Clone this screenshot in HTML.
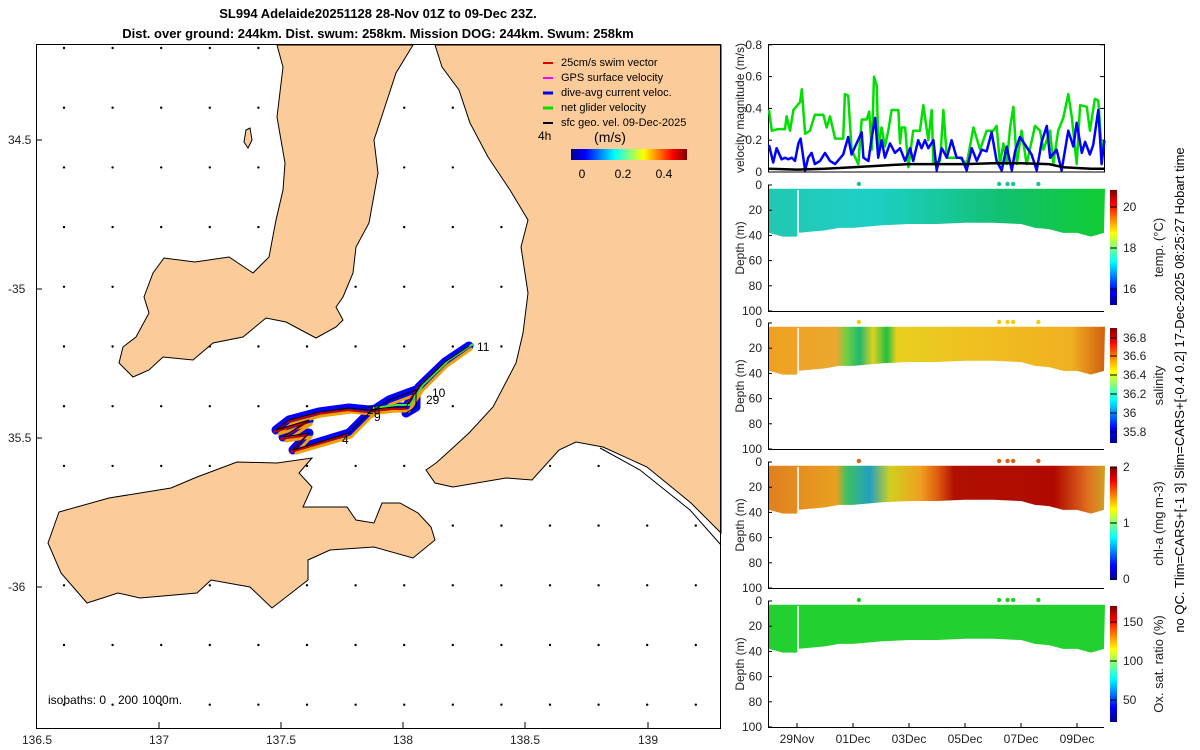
<!DOCTYPE html>
<html><head><meta charset="utf-8"><style>
body{margin:0;background:#fff;}
svg{display:block;font-family:"Liberation Sans",sans-serif;}
</style></head><body>
<svg id="root" width="1200" height="750" viewBox="0 0 1200 750" xmlns="http://www.w3.org/2000/svg">
<defs>
<linearGradient id="jet" x1="0" y1="1" x2="0" y2="0">
<stop offset="0" stop-color="#00008f"/><stop offset="0.125" stop-color="#0000ff"/><stop offset="0.375" stop-color="#00ffff"/><stop offset="0.625" stop-color="#ffff00"/><stop offset="0.875" stop-color="#ff0000"/><stop offset="1" stop-color="#800000"/>
</linearGradient>
<linearGradient id="jeth" x1="0" y1="0" x2="1" y2="0">
<stop offset="0" stop-color="#00008f"/><stop offset="0.125" stop-color="#0000ff"/><stop offset="0.375" stop-color="#00ffff"/><stop offset="0.625" stop-color="#ffff00"/><stop offset="0.875" stop-color="#ff0000"/><stop offset="1" stop-color="#800000"/>
</linearGradient>
<linearGradient id="gTemp" x1="0" y1="0" x2="1" y2="0">
<stop offset="0" stop-color="#22c8b0"/><stop offset="0.3" stop-color="#1ecfc8"/><stop offset="0.5" stop-color="#18c8a0"/><stop offset="0.7" stop-color="#12c070"/><stop offset="1" stop-color="#10cc30"/>
</linearGradient>
<linearGradient id="gSal" x1="0" y1="0" x2="1" y2="0">
<stop offset="0" stop-color="#f0a020"/><stop offset="0.2" stop-color="#eaa830"/><stop offset="0.23" stop-color="#70d040"/><stop offset="0.27" stop-color="#20b870"/><stop offset="0.31" stop-color="#e0d020"/><stop offset="0.35" stop-color="#20c040"/><stop offset="0.38" stop-color="#e8d020"/><stop offset="0.6" stop-color="#f0c020"/><stop offset="0.9" stop-color="#f0b020"/><stop offset="1" stop-color="#d06010"/>
</linearGradient>
<linearGradient id="gChl" x1="0" y1="0" x2="1" y2="0">
<stop offset="0" stop-color="#e08020"/><stop offset="0.2" stop-color="#e8a020"/><stop offset="0.23" stop-color="#40c060"/><stop offset="0.3" stop-color="#20a0c0"/><stop offset="0.36" stop-color="#d0d020"/><stop offset="0.45" stop-color="#f0a020"/><stop offset="0.5" stop-color="#e06010"/><stop offset="0.55" stop-color="#b01000"/><stop offset="0.85" stop-color="#b00a00"/><stop offset="0.95" stop-color="#e07020"/><stop offset="1" stop-color="#d0a020"/>
</linearGradient>
</defs>

<!-- MAP -->
<g id="map">
<g id="dots"></g>
<g fill="#fbcb9a" stroke="#000" stroke-width="1">
<polygon points="277,45 283,67 277,117 285,163 283,190 276,220 269,257 253,273 229,257 195,262 164,258 153,273 144,297 149,313 136,337 123,347 119,363 133,377 149,370 163,357 193,360 213,343 243,337 266,318 286,322 316,338 336,327 343,320 336,307 343,297 353,273 356,247 369,223 378,173 374,140 396,73 413,45"/>
<polygon points="435,45 442,67 459,90 470,123 488,157 510,190 528,220 521,247 528,293 523,333 516,363 493,407 469,433 445,455 436,463 426,470 435,483 453,487 506,478 532,480 559,450 576,442 603,447 647,467 691,503 721,533 721,45"/>
<polygon points="59,512 48,543 61,573 87,603 118,593 140,598 197,593 211,580 250,587 272,608 308,580 308,560 330,550 374,547 413,558 435,540 431,527 418,513 400,503 382,503 374,523 356,520 347,507 303,507 312,487 299,473 312,458 277,463 237,462 197,477 171,488 109,498"/>
<polygon points="246,130 250,128 252,140 248,148 244,142"/>
</g>
<path d="M600,448 L640,470 L690,510 L721,545" fill="none" stroke="#000" stroke-width="1"/>
<g id="track" fill="none" stroke-linejoin="round" stroke-linecap="round">
<polyline stroke="#0000ff" stroke-width="9" points="469,346 445,362 419,387 406,407 393,407 369,410 349,408 319,412 289,420 276,430 309,420 283,437 309,433 293,450 349,433 369,413 389,400 416,390 416,407 406,413"/>
<polyline stroke="#f0a000" stroke-width="3" points="471,349 447,366 422,391 409,411 395,411 371,414 351,412 321,416 291,424 279,434 311,424 286,441 311,437 296,453 351,437 371,417 391,404 418,394"/>
<polyline stroke="#c00000" stroke-width="2" points="467,348 443,364 417,389 404,409 391,409 367,412 347,410 317,414 287,422 274,432 307,422 281,439 307,435 291,452 347,435"/>
<polyline stroke="#40e040" stroke-width="2" points="473,344 449,360 423,385 410,405 397,405 373,408"/>
<polyline stroke="#000" stroke-width="1" points="469,346 445,362 419,387 406,407 393,407 369,410 349,408 319,412 289,420 276,430 309,420 283,437 309,433 293,450 349,433 369,413 389,400 416,390 416,407 406,413"/>
</g>
<g font-size="12" fill="#000">
<text x="477" y="351">11</text><text x="432" y="397">10</text><text x="426" y="404">29</text><text x="374" y="421">9</text><text x="367" y="414">28</text><text x="342" y="444">4</text>
</g>
<rect x="36.5" y="44.5" width="684" height="684" fill="none" stroke="#000"/>
<g font-size="12" fill="#222">
<text x="8" y="144">34.5</text><text x="8" y="293">-35</text><text x="8" y="442">35.5</text><text x="8" y="591">-36</text>
</g>
<g font-size="12" fill="#222" text-anchor="middle">
<text x="37" y="744">136.5</text><text x="159" y="744">137</text><text x="281" y="744">137.5</text><text x="403" y="744">138</text><text x="525" y="744">138.5</text><text x="648" y="744">139</text>
</g>
<g stroke="#000">
<line x1="159" y1="728" x2="159" y2="722"/><line x1="281" y1="728" x2="281" y2="722"/><line x1="403" y1="728" x2="403" y2="722"/><line x1="525" y1="728" x2="525" y2="722"/><line x1="648" y1="728" x2="648" y2="722"/>
<line x1="36" y1="140" x2="42" y2="140"/><line x1="36" y1="289" x2="42" y2="289"/><line x1="36" y1="438" x2="42" y2="438"/><line x1="36" y1="587" x2="42" y2="587"/>
</g>
<g font-size="12"><text x="48" y="704">isobaths: 0</text><text x="118" y="704">200</text><text x="142" y="704">1000m.</text></g>
<g font-size="11" fill="#000">
<line x1="543" y1="63" x2="553" y2="63" stroke="#e00000" stroke-width="2"/><text x="561" y="66">25cm/s swim vector</text>
<line x1="543" y1="78" x2="553" y2="78" stroke="#ff00ff" stroke-width="2"/><text x="561" y="81">GPS surface velocity</text>
<line x1="543" y1="93" x2="553" y2="93" stroke="#0000ff" stroke-width="3"/><text x="561" y="96">dive-avg current veloc.</text>
<line x1="543" y1="108" x2="553" y2="108" stroke="#00e000" stroke-width="3"/><text x="561" y="111">net glider velocity</text>
<line x1="543" y1="123" x2="553" y2="123" stroke="#000" stroke-width="2"/><text x="561" y="126">sfc geo. vel. 09-Dec-2025</text>
<text x="538" y="140" font-size="12">4h</text>
<text x="610" y="142" font-size="14" text-anchor="middle">(m/s)</text>
<rect x="571" y="149" width="116" height="11" fill="url(#jeth)"/>
<text x="582" y="178" font-size="12" text-anchor="middle">0</text><text x="623" y="178" font-size="12" text-anchor="middle">0.2</text><text x="664" y="178" font-size="12" text-anchor="middle">0.4</text>
</g>
<text x="378" y="18" font-size="13" font-weight="bold" text-anchor="middle">SL994 Adelaide20251128 28-Nov 01Z to 09-Dec 23Z.</text>
<text x="378" y="38" font-size="13" font-weight="bold" text-anchor="middle">Dist. over ground: 244km. Dist. swum: 258km. Mission DOG: 244km. Swum: 258km</text>
</g>

<!-- RIGHT PANELS -->
<g id="vel"></g>
<g id="sections"></g>
<text transform="translate(1184,390) rotate(-90)" font-size="13" text-anchor="middle">no QC. Tlim=CARS+[-1 3] Slim=CARS+[-0.4 0.2] 17-Dec-2025 08:25:27 Hobart time</text>
</svg>
<script>
// velocity data (days since 28-Nov 00Z, m/s)
var greenDays=[0,0.10,0.33,0.57,0.63,0.75,0.87,1.11,1.17,1.29,1.46,1.64,1.94,2.06,2.18,2.36,2.65,2.71,2.83,2.95,3.19,3.31,3.49,3.58,3.67,3.75,3.85,3.90,4.02,4.14,4.26,4.38,4.62,4.68,4.74,4.86,4.98,5.15,5.39,5.51,5.69,5.81,5.87,6.11,6.23,6.35,6.82,7.06,7.30,7.54,7.77,8.01,8.13,8.25,8.37,8.49,8.61,8.73,8.85,9.02,9.20,9.50,9.68,9.80,10.04,10.15,10.33,10.51,10.69,10.81,10.99,11.11,11.35,11.46,11.64,11.76,11.88,11.98];
var greenVals=[0.39,0.26,0.27,0.27,0.35,0.26,0.39,0.44,0.52,0.24,0.26,0.36,0.36,0.28,0.35,0.21,0.21,0.49,0.48,0.14,0.05,0.33,0.33,0.38,0.14,0.60,0.54,0.16,0.28,0.16,0.26,0.39,0.39,0.18,0.28,0.28,0.03,0.26,0.26,0.42,0.20,0.39,0.05,0.07,0.39,0.09,0.09,0.05,0.28,0.14,0.26,0.26,0.29,0.05,0.18,0.05,0.28,0.41,0.05,0.26,0.05,0.29,0.26,0.14,0.26,0.05,0.26,0.34,0.49,0.35,0.05,0.42,0.41,0.26,0.46,0.45,0.14,0.20];
var blueDays=[0,0.15,0.27,0.45,0.57,0.69,0.81,0.93,1.05,1.13,1.29,1.40,1.52,1.64,1.82,2.0,2.18,2.36,2.65,2.83,2.95,3.13,3.31,3.37,3.55,3.67,3.79,3.90,4.02,4.14,4.32,4.5,4.68,4.86,5.04,5.15,5.33,5.45,5.57,5.69,5.87,5.99,6.17,6.35,6.52,6.70,6.88,7.06,7.24,7.42,7.60,7.77,7.95,8.13,8.31,8.49,8.67,8.79,8.96,9.38,9.56,9.74,9.92,10.04,10.27,10.45,10.69,10.87,10.99,11.17,11.29,11.46,11.58,11.76,11.88,11.98];
var blueVals=[0.17,0.06,0.15,0.08,0.09,0.08,0.09,0.07,0.18,0.21,0.01,0.09,0.12,0.05,0.07,0.12,0.07,0.05,0.11,0.22,0.11,0.18,0.25,0.09,0.07,0.22,0.34,0.09,0.20,0.09,0.18,0.12,0.15,0.07,0.15,0.07,0.20,0.15,0.20,0.15,0.20,0.01,0.15,0.09,0.20,0.09,0.09,0.01,0.15,0.07,0.14,0.13,0.25,0.07,0.01,0.16,0.01,0.13,0.22,0.11,0.01,0.19,0.29,0.09,0.14,0.01,0.26,0.16,0.31,0.12,0.19,0.11,0.17,0.39,0.05,0.20];
var blackDays=[0,1,2,3,4,5,6,7,8,9,10,10.5,11.5,12];
var blackVals=[0.02,0.015,0.02,0.03,0.04,0.05,0.05,0.05,0.055,0.055,0.05,0.03,0.02,0.02];
var velTicks=[0,0.2,0.4,0.6,0.8];
// section data
var profDays=[0,0.5,1.0,1.03,2,2.5,3,4,5,6,7,8,9,9.5,10,10.5,11,11.5,12];
var profBottom=[38,41,41,38,36,34,34,32,31,31,30,30,31,34,35,38,38,41,38];
var surfDays=[3.21,8.22,8.52,8.72,9.62];
var depthTicks=[0,20,40,60,80,100];
var dateLabels=["29Nov","01Dec","03Dec","05Dec","07Dec","09Dec"];
var dateDays=[1,3,5,7,9,11];

var NS="http://www.w3.org/2000/svg";
function mk(tag,attrs,parent){var e=document.createElementNS(NS,tag);for(var k in attrs)e.setAttribute(k,attrs[k]);parent.appendChild(e);return e;}
function xS(d){return 769+d*28;}
var X0=768,X1=1104;

// grid dots
var dg=document.getElementById('dots');
for(var i=0;i<14;i++)for(var j=0;j<12;j++){
  var c=mk('circle',{cx:64+i*48.6,cy:48+j*59.7,r:1.2,fill:'#000'},dg);
  
  
}

// velocity panel
var vg=document.getElementById('vel');
function yV(v){return 172-v*159;}
mk('rect',{x:X0+.5,y:44.5,width:X1-X0,height:127.5,fill:'#fff',stroke:'#000'},vg);
velTicks.forEach(function(t){
  var tx=mk('text',{x:762,y:yV(t)+4,'font-size':12,'text-anchor':'end',fill:'#222'},vg);tx.textContent=t===0?'0':t.toFixed(1);
  
  
  mk('line',{x1:X0,x2:X0+4,y1:yV(t),y2:yV(t),stroke:'#000'},vg);
  mk('line',{x1:X1,x2:X1-4,y1:yV(t),y2:yV(t),stroke:'#000'},vg);
});
function line(days,vals,col,w,name){
  var p=days.map(function(d,i){return xS(d).toFixed(1)+','+yV(vals[i]).toFixed(1);}).join(' ');
  var pl=mk('polyline',{points:p,fill:'none',stroke:col,'stroke-width':w,'stroke-linejoin':'round'},vg);
  
  
}
line(greenDays,greenVals,'#00e000',2.5,'net-glider-velocity-line');
line(blueDays,blueVals,'#0000ff',2.5,'dive-avg-current-line');
line(blackDays,blackVals,'#000',2.5,'surface-geo-velocity-line');
var vl=mk('text',{transform:'translate(744,108) rotate(-90)','font-size':12,'text-anchor':'middle',fill:'#222'},vg);vl.textContent='velocity magnitude (m/s)';



// sections
var sg=document.getElementById('sections');
var panels=[
 {top:185,fill:'url(#gTemp)',dot:'#20c090',label:'temp. (°C)',cb:[190,305],ticks:[[20,207],[18,248],[16,289]],name:'temperature'},
 {top:323,fill:'url(#gSal)',dot:'#f0d000',label:'salinity',cb:[328,443],ticks:[[36.8,338],[36.6,356],[36.4,375],[36.2,394],[36,413],[35.8,432]],name:'salinity'},
 {top:462,fill:'url(#gChl)',dot:'#e06010',label:'chl-a (mg m-3)',cb:[467,580],ticks:[[2,467],[1,523],[0,579]],name:'chlorophyll'},
 {top:601,fill:'#22d030',dot:'#20d020',label:'Ox. sat. ratio (%)',cb:[606,722],ticks:[[150,622],[100,661],[50,700]],name:'oxygen'}
];
panels.forEach(function(P,pi){
  var g=mk('g',{},sg);
  
  
  function yD(d){return P.top+d*1.26;}
  var pts=xS(profDays[0]).toFixed(1)+','+yD(3)+' '+xS(12)+','+yD(3)+' ';
  for(var k=profDays.length-1;k>=0;k--)pts+=Math.min(xS(profDays[k]),X1)+','+yD(profBottom[k])+' ';
  var poly=mk('polygon',{points:pts,fill:P.fill},g);
  
  
  mk('line',{x1:xS(1.04),x2:xS(1.04),y1:yD(4),y2:yD(41),stroke:'#fff','stroke-width':1.5},g);
  surfDays.forEach(function(d){
    var c=mk('circle',{cx:xS(d),cy:yD(0)-1,r:2.2,fill:P.dot},g);
    
    
  });
  mk('line',{x1:X0+.5,x2:X0+.5,y1:P.top,y2:yD(100),stroke:'#000'},g);
  mk('line',{x1:X0,x2:X1,y1:yD(100)+.5,y2:yD(100)+.5,stroke:'#000'},g);
  depthTicks.forEach(function(t){
    var tx=mk('text',{x:762,y:yD(t)+4,'font-size':12,'text-anchor':'end',fill:'#222'},g);tx.textContent=t;
    
    
    mk('line',{x1:X0,x2:X0+4,y1:yD(t),y2:yD(t),stroke:'#000'},g);
  });
  var dl=mk('text',{transform:'translate(744,'+yD(50)+') rotate(-90)','font-size':12,'text-anchor':'middle',fill:'#222'},g);dl.textContent='Depth (m)';
  
  
  var cb=mk('rect',{x:1110,y:P.cb[0],width:7,height:P.cb[1]-P.cb[0],fill:'url(#jet)'},g);
  
  
  P.ticks.forEach(function(t){
    var tx=mk('text',{x:1123,y:t[1]+4,'font-size':12,fill:'#222'},g);tx.textContent=t[0];
    
    
    mk('line',{x1:1110,x2:1117,y1:t[1],y2:t[1],stroke:'#000'},g);
  });
  var cl=mk('text',{transform:'translate(1163,'+((P.cb[0]+P.cb[1])/2)+') rotate(-90)','font-size':13,'text-anchor':'middle',fill:'#222'},g);cl.textContent=P.label;
  
  
  if(pi===3){
    dateDays.forEach(function(d,i){
      mk('line',{x1:xS(d),x2:xS(d),y1:yD(100),y2:yD(100)-4,stroke:'#000'},g);
      var tx=mk('text',{x:xS(d),y:743,'font-size':12,'text-anchor':'middle',fill:'#222'},g);tx.textContent=dateLabels[i];
      
      
    });
  }
});
</script>
</body></html>
